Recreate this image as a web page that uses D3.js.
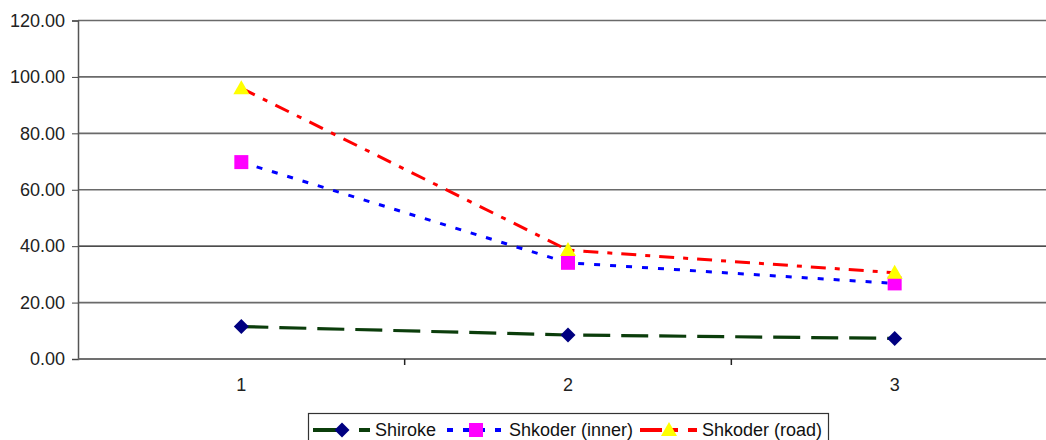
<!DOCTYPE html>
<html>
<head>
<meta charset="utf-8">
<script src="https://cdn.jsdelivr.net/npm/d3@7"></script>
<style>
  body { margin: 0; background: #fff; }
  svg { display: block; font-family: "Liberation Sans", Arial, sans-serif; }
</style>
</head>
<body>
<div id="chart"></div>
<script>
// chart values
var categories = ["1", "2", "3"];
var shiroke = [11.5, 8.5, 7.3];
var inner = [69.8, 34.1, 26.8];
var road = [96.0, 38.6, 30.6];
var yTicks = [0, 20, 40, 60, 80, 100, 120];
var seriesNames = ["Shiroke", "Shkoder (inner)", "Shkoder (road)"];

var width = 1046, height = 440;
var margin = {left: 78, top: 20.5, bottom: 359};

var svg = d3.select("#chart").append("svg")
    .attr("width", width)
    .attr("height", height);

var x = d3.scaleBand().domain(categories).range([margin.left, margin.left + 980]);
var y = d3.scaleLinear().domain([0, 120]).range([margin.bottom, margin.top]);

function cx(d) { return x(d) + x.bandwidth() / 2; }

// gridlines
svg.append("g")
  .selectAll("line")
  .data(yTicks)
  .enter().append("line")
    .attr("x1", margin.left).attr("x2", width)
    .attr("y1", function(d) { return y(d); })
    .attr("y2", function(d) { return y(d); })
    .style("stroke", function(d) { return d == 40 ? "#111" : "#6a6a6a"; })
    .style("stroke-width", function(d) { return d == 40 ? 1.2 : 1.6; });

// y axis
var yAxis = d3.axisLeft(y).tickValues(yTicks).tickSize(6).tickPadding(7)
    .tickFormat(d3.format(".2f"));
var gy = svg.append("g")
    .attr("transform", "translate(" + margin.left + ",0)")
    .call(yAxis);
gy.select(".domain").style("stroke", "#555").style("stroke-width", 1.5);
gy.selectAll(".tick line").style("stroke", "#444");
gy.selectAll("text").style("font-size", "18px").style("fill", "#222")
  .style("font-family", "Liberation Sans, Arial, sans-serif");

// x axis
var gx = svg.append("g")
    .attr("transform", "translate(0," + margin.bottom + ")");
gx.append("line")
    .attr("x1", margin.left).attr("x2", width)
    .style("stroke", "#666").style("stroke-width", 1.6);
gx.selectAll(".xt")
  .data(categories.slice(1))
  .enter().append("line")
    .attr("x1", function(d) { return x(d); })
    .attr("x2", function(d) { return x(d); })
    .attr("y1", 0).attr("y2", 6)
    .style("stroke", "#222").style("stroke-width", 1.5);
gx.selectAll(".xl")
  .data(categories)
  .enter().append("text")
    .attr("x", cx)
    .attr("y", 32)
    .attr("text-anchor", "middle")
    .style("font-size", "18px").style("fill", "#222")
    .text(function(d) { return d; });

// series
var series = [
  {name: seriesNames[0], values: shiroke, color: "#0b3d0b", dash: "27,11", w: 3.2, marker: "diamond", fill: "#000080"},
  {name: seriesNames[1], values: inner, color: "#0000ff", dash: "6,10", w: 3, marker: "square", fill: "#ff00ff"},
  {name: seriesNames[2], values: road, color: "#ff0000", dash: "15,9,5,9", w: 3, marker: "triangle", fill: "#ffff00"}
];

var line = d3.line()
    .x(function(d, i) { return cx(categories[i]); })
    .y(function(d) { return y(d); });

series.forEach(function(s) {
  svg.append("path")
    .datum(s.values)
    .attr("d", line)
    .style("fill", "none")
    .style("stroke", s.color)
    .style("stroke-width", s.w)
    .style("stroke-dasharray", s.dash);
});

function markerPath(type, px, py) {
  if (type == "diamond") {
    return "M" + px + "," + (py - 7.5) + "L" + (px + 7.5) + "," + py + "L" + px + "," + (py + 7.5) + "L" + (px - 7.5) + "," + py + "Z";
  } else if (type == "square") {
    return "M" + (px - 7) + "," + (py - 7) + "h14v14h-14Z";
  } else {
    return "M" + px + "," + (py - 8) + "L" + (px + 8) + "," + (py + 6) + "L" + (px - 8) + "," + (py + 6) + "Z";
  }
}

series.forEach(function(s) {
  svg.append("g")
    .selectAll("path")
    .data(s.values)
    .enter().append("path")
      .attr("d", function(d, i) { return markerPath(s.marker, cx(categories[i]), y(d)); })
      .style("fill", s.fill);
});

// legend
var legend = svg.append("g");
legend.append("rect")
    .attr("x", 308.5).attr("y", 413.5)
    .attr("width", 520).attr("height", 34)
    .style("fill", "#fff").style("stroke", "#333").style("stroke-width", 1.2);

var legendX = [313, 447, 640];
series.forEach(function(s, i) {
  var lx = legendX[i], ly = 430;
  legend.append("line")
    .attr("x1", lx).attr("x2", lx + 57)
    .attr("y1", ly).attr("y2", ly)
    .style("stroke", s.color)
    .style("stroke-width", s.w + 1)
    .style("stroke-dasharray", i == 0 ? "28,18,12" : i == 1 ? "6,10,22,10" : "22,10,6,10");
  legend.append("path")
    .attr("d", markerPath(s.marker, lx + 29, ly))
    .style("fill", s.fill);
  legend.append("text")
    .attr("x", lx + 62)
    .attr("y", ly + 6)
    .style("font-size", "18px").style("fill", "#111")
    .text(s.name);
});
</script>
</body>
</html>
